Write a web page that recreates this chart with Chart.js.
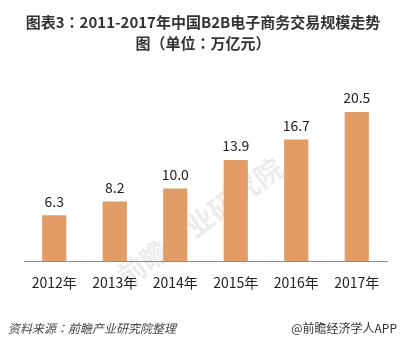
<!DOCTYPE html>
<html>
<head>
<meta charset="utf-8">
<script src="https://cdn.jsdelivr.net/npm/chart.js@4"></script>
<style>
  html, body { margin: 0; padding: 0; background: #fff; }
  #wrap { width: 406px; height: 346px; position: relative; }
</style>
</head>
<body>
<div id="wrap"><canvas id="chart" width="406" height="346"></canvas></div>
<script>
// Data
const years = ['2012年', '2013年', '2014年', '2015年', '2016年', '2017年'];
const tradeScale = [6.3, 8.2, 10.0, 13.9, 16.7, 20.5];
const titleLines = ['图表3：2011-2017年中国B2B电子商务交易规模走势', '图（单位：万亿元）'];
const sourceText = '资料来源：前瞻产业研究院整理';
const brandText = '@前瞻经济学人APP';

const FONT = '"Noto Sans CJK SC", "Noto Sans", sans-serif';
// TC face centers full-width punctuation like the original
const FONT_TC = '"Noto Sans CJK TC", "Noto Sans CJK SC", sans-serif';

// Value labels above bars
const valueLabels = {
    id: 'valueLabels',
    afterDatasetsDraw(chart) {
        const ctx = chart.ctx;
        const meta = chart.getDatasetMeta(0);
        ctx.save();
        ctx.font = '14px ' + FONT;
        ctx.fillStyle = '#222';
        ctx.textAlign = 'center';
        ctx.textBaseline = 'middle';
        meta.data.forEach((bar, i) => {
            ctx.fillText(tradeScale[i].toFixed(1), bar.x, bar.y - 14);
        });
        ctx.restore();
    }
};

// Title, footer and faint watermark
const decorations = {
    id: 'decorations',
    beforeDraw(chart) {
        const ctx = chart.ctx;
        ctx.save();
        ctx.translate(200, 222);
        ctx.rotate(-36 * Math.PI / 180);
        ctx.font = 'bold 28px ' + FONT;
        ctx.fillStyle = 'rgba(170, 170, 170, 0.22)';
        ctx.textAlign = 'center';
        ctx.textBaseline = 'middle';
        ctx.fillText('前瞻产业研究院', 0, 0);
        ctx.restore();
    },
    afterDraw(chart) {
        const ctx = chart.ctx;
        ctx.save();
        ctx.fillStyle = '#333';
        ctx.font = 'bold 15px ' + FONT_TC;
        ctx.textAlign = 'center';
        ctx.textBaseline = 'middle';
        ctx.fillText(titleLines[0], 203, 22);
        ctx.fillText(titleLines[1], 203, 43);

        ctx.font = 'italic 12px ' + FONT_TC;
        ctx.fillStyle = '#444';
        ctx.textAlign = 'left';
        ctx.fillText(sourceText, 8, 328);

        ctx.font = '12px ' + FONT;
        ctx.fillStyle = '#333';
        ctx.textAlign = 'right';
        ctx.fillText(brandText, 397, 328);
        ctx.restore();
    }
};

const chart = new Chart(document.getElementById('chart').getContext('2d'), {
    type: 'bar',
    data: {
        labels: years,
        datasets: [{
            data: tradeScale,
            backgroundColor: '#E29D66',
            barPercentage: 0.4,
            categoryPercentage: 1
        }]
    },
    options: {
        responsive: false,
        animation: false,
        layout: {
            padding: { top: 101, left: 24, right: 19, bottom: 42 }
        },
        plugins: {
            legend: { display: false },
            tooltip: { enabled: false }
        },
        scales: {
            y: {
                display: false,
                min: 0,
                max: 22
            },
            x: {
                grid: { display: false, drawTicks: false },
                border: { display: true, color: '#8c8c8c', width: 1 },
                ticks: {
                    color: '#222',
                    padding: 13,
                    font: { size: 14, family: FONT }
                }
            }
        }
    },
    plugins: [valueLabels, decorations]
});
</script>
</body>
</html>
